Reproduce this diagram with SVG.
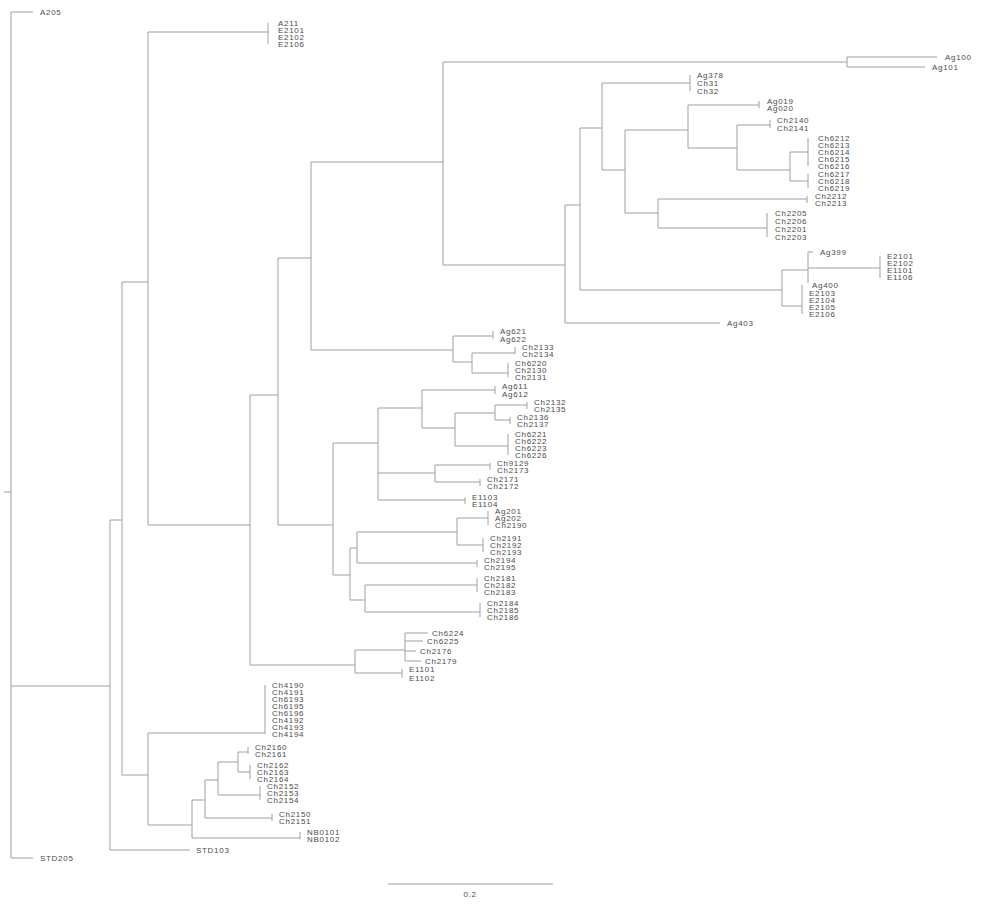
<svg xmlns="http://www.w3.org/2000/svg" width="1000" height="909" viewBox="0 0 1000 909">
<style>
.e{fill:none;stroke:#a0a0a0;stroke-width:1}
text{font-family:"Liberation Sans",Arial,sans-serif;font-size:8px;fill:#4a4a4a;letter-spacing:0.7px}
</style>
<rect width="1000" height="909" fill="#fff"/>
<g id="connectors" class="e">
<path d="M4,492H11M11,12V858M11,12H33M11,858H33M11,686H110M110,520V850M110,850H190M110,520H122M122,282V775M122,282H148M148,32V525M148,32H268M268,23V44"/>
<path d="M148,525H250M250,395V665M250,395H278M278,258V525M278,258H311M311,162V350M311,162H443M443,62V265M443,62H847M847,57V67M847,57H937M847,67H925"/>
<path d="M443,265H565M565,205V323M565,323H720M565,205H580M580,128V290M580,128H602M602,83V170M602,83H690M690,75V91"/>
<path d="M602,170H625M625,130V213M625,130H688M688,105V148M688,105H759M759,101V108M688,148H737M737,125V170M737,125H770M770,120V128M737,170H790M790,152V181M790,152H808M808,138V166M790,181H808M808,174V188"/>
<path d="M625,213H658M658,199V228M658,199H807M807,196V203M658,228H767M767,213V237"/>
<path d="M580,290H782M782,270V306M782,270H808M808,252V283M808,252H813M808,268H880M880,256V278M782,306H802M802,285V314"/>
<path d="M311,350H453M453,336V362M453,336H493M493,331V339M453,362H472M472,353V373M472,353H515M515,347V354M472,373H508M508,363V377"/>
<path d="M278,525H333M333,443V575M333,443H378M378,408V500M378,408H422M422,390V428M422,390H495M495,386V394M422,428H455M455,413V446M455,413H495M495,405V420M495,405H527M527,402V409M495,420H510M510,417V424M455,446H508M508,434V455"/>
<path d="M378,473H435M435,465V482M435,465H490M490,463V470M435,482H480M480,479V486M378,500H465M465,497V504"/>
<path d="M333,575H350M350,548V600M350,548H357M357,532V563M357,532H457M457,518V545M457,518H488M488,511V525M457,545H483M483,538V552M357,563H477M477,560V567M350,600H365M365,585V612M365,585H477M477,578V592M365,612H480M480,603V617"/>
<path d="M250,665H355M355,650V673M355,650H405M405,633V661M405,633H428M405,641H423M405,651H416M405,661H421M355,673H402M402,669V678"/>
<path d="M122,775H148M148,733V825M148,733H265M265,685V734M148,825H192M192,800V838M192,838H300M300,832V839M192,800H205M205,780V818M205,818H272M272,814V821M205,780H218M218,762V795M218,795H260M260,786V800M218,762H238M238,752V772M238,752H248M248,747V754M238,772H250M250,765V779"/>
<path d="M388,884H553"/>
</g>
<g id="n1"><text x="40" y="15">A205</text></g>
<g id="n2"><text x="40" y="861">STD205</text></g>
<g id="n3"><text x="196" y="853">STD103</text></g>
<g id="n4"><text x="278" y="26">A211</text></g>
<g id="n5"><text x="278" y="33">E2101</text></g>
<g id="n6"><text x="278" y="40">E2102</text></g>
<g id="n7"><text x="278" y="47">E2106</text></g>
<g id="n8"><text x="945" y="60">Ag100</text></g>
<g id="n9"><text x="932" y="70">Ag101</text></g>
<g id="n10"><text x="727" y="326">Ag403</text></g>
<g id="n11"><text x="697" y="78">Ag378</text></g>
<g id="n12"><text x="697" y="86">Ch31</text></g>
<g id="n13"><text x="697" y="94">Ch32</text></g>
<g id="n14"><text x="767" y="104">Ag019</text></g>
<g id="n15"><text x="767" y="111">Ag020</text></g>
<g id="n16"><text x="777" y="123">Ch2140</text></g>
<g id="n17"><text x="777" y="131">Ch2141</text></g>
<g id="n18"><text x="818" y="141">Ch6212</text></g>
<g id="n19"><text x="818" y="148">Ch6213</text></g>
<g id="n20"><text x="818" y="155">Ch6214</text></g>
<g id="n21"><text x="818" y="162">Ch6215</text></g>
<g id="n22"><text x="818" y="169">Ch6216</text></g>
<g id="n23"><text x="818" y="177">Ch6217</text></g>
<g id="n24"><text x="818" y="184">Ch6218</text></g>
<g id="n25"><text x="818" y="191">Ch6219</text></g>
<g id="n26"><text x="815" y="199">Ch2212</text></g>
<g id="n27"><text x="815" y="206">Ch2213</text></g>
<g id="n28"><text x="775" y="216">Ch2205</text></g>
<g id="n29"><text x="775" y="224">Ch2206</text></g>
<g id="n30"><text x="775" y="232">Ch2201</text></g>
<g id="n31"><text x="775" y="240">Ch2203</text></g>
<g id="n32"><text x="820" y="255">Ag399</text></g>
<g id="n33"><text x="887" y="259">E2101</text></g>
<g id="n34"><text x="887" y="266">E2102</text></g>
<g id="n35"><text x="887" y="273">E1101</text></g>
<g id="n36"><text x="887" y="280">E1106</text></g>
<g id="n37"><text x="812" y="288">Ag400</text></g>
<g id="n38"><text x="809" y="296">E2103</text></g>
<g id="n39"><text x="809" y="303">E2104</text></g>
<g id="n40"><text x="809" y="310">E2105</text></g>
<g id="n41"><text x="809" y="317">E2106</text></g>
<g id="n42"><text x="500" y="334">Ag621</text></g>
<g id="n43"><text x="500" y="342">Ag622</text></g>
<g id="n44"><text x="522" y="350">Ch2133</text></g>
<g id="n45"><text x="522" y="357">Ch2134</text></g>
<g id="n46"><text x="515" y="366">Ch6220</text></g>
<g id="n47"><text x="515" y="373">Ch2130</text></g>
<g id="n48"><text x="515" y="380">Ch2131</text></g>
<g id="n49"><text x="502" y="389">Ag611</text></g>
<g id="n50"><text x="502" y="397">Ag612</text></g>
<g id="n51"><text x="534" y="405">Ch2132</text></g>
<g id="n52"><text x="534" y="412">Ch2135</text></g>
<g id="n53"><text x="517" y="420">Ch2136</text></g>
<g id="n54"><text x="517" y="427">Ch2137</text></g>
<g id="n55"><text x="515" y="437">Ch6221</text></g>
<g id="n56"><text x="515" y="444">Ch6222</text></g>
<g id="n57"><text x="515" y="451">Ch6223</text></g>
<g id="n58"><text x="515" y="458">Ch6226</text></g>
<g id="n59"><text x="497" y="466">Ch9129</text></g>
<g id="n60"><text x="497" y="473">Ch2173</text></g>
<g id="n61"><text x="487" y="482">Ch2171</text></g>
<g id="n62"><text x="487" y="489">Ch2172</text></g>
<g id="n63"><text x="472" y="500">E1103</text></g>
<g id="n64"><text x="472" y="507">E1104</text></g>
<g id="n65"><text x="495" y="514">Ag201</text></g>
<g id="n66"><text x="495" y="521">Ag202</text></g>
<g id="n67"><text x="495" y="528">Ch2190</text></g>
<g id="n68"><text x="490" y="541">Ch2191</text></g>
<g id="n69"><text x="490" y="548">Ch2192</text></g>
<g id="n70"><text x="490" y="555">Ch2193</text></g>
<g id="n71"><text x="484" y="563">Ch2194</text></g>
<g id="n72"><text x="484" y="570">Ch2195</text></g>
<g id="n73"><text x="484" y="581">Ch2181</text></g>
<g id="n74"><text x="484" y="588">Ch2182</text></g>
<g id="n75"><text x="484" y="595">Ch2183</text></g>
<g id="n76"><text x="487" y="606">Ch2184</text></g>
<g id="n77"><text x="487" y="613">Ch2185</text></g>
<g id="n78"><text x="487" y="620">Ch2186</text></g>
<g id="n79"><text x="432" y="636">Ch6224</text></g>
<g id="n80"><text x="427" y="644">Ch6225</text></g>
<g id="n81"><text x="420" y="654">Ch2176</text></g>
<g id="n82"><text x="425" y="664">Ch2179</text></g>
<g id="n83"><text x="409" y="672">E1101</text></g>
<g id="n84"><text x="409" y="681">E1102</text></g>
<g id="n85"><text x="272" y="688">Ch4190</text></g>
<g id="n86"><text x="272" y="695">Ch4191</text></g>
<g id="n87"><text x="272" y="702">Ch6193</text></g>
<g id="n88"><text x="272" y="709">Ch6195</text></g>
<g id="n89"><text x="272" y="716">Ch6196</text></g>
<g id="n90"><text x="272" y="723">Ch4192</text></g>
<g id="n91"><text x="272" y="730">Ch4193</text></g>
<g id="n92"><text x="272" y="737">Ch4194</text></g>
<g id="n93"><text x="255" y="750">Ch2160</text></g>
<g id="n94"><text x="255" y="757">Ch2161</text></g>
<g id="n95"><text x="257" y="768">Ch2162</text></g>
<g id="n96"><text x="257" y="775">Ch2163</text></g>
<g id="n97"><text x="257" y="782">Ch2164</text></g>
<g id="n98"><text x="267" y="789">Ch2152</text></g>
<g id="n99"><text x="267" y="796">Ch2153</text></g>
<g id="n100"><text x="267" y="803">Ch2154</text></g>
<g id="n101"><text x="279" y="817">Ch2150</text></g>
<g id="n102"><text x="279" y="824">Ch2151</text></g>
<g id="n103"><text x="307" y="835">NB0101</text></g>
<g id="n104"><text x="307" y="842">NB0102</text></g>
<g id="scale"><text x="470" y="897" text-anchor="middle">0.2</text></g>
</svg>
